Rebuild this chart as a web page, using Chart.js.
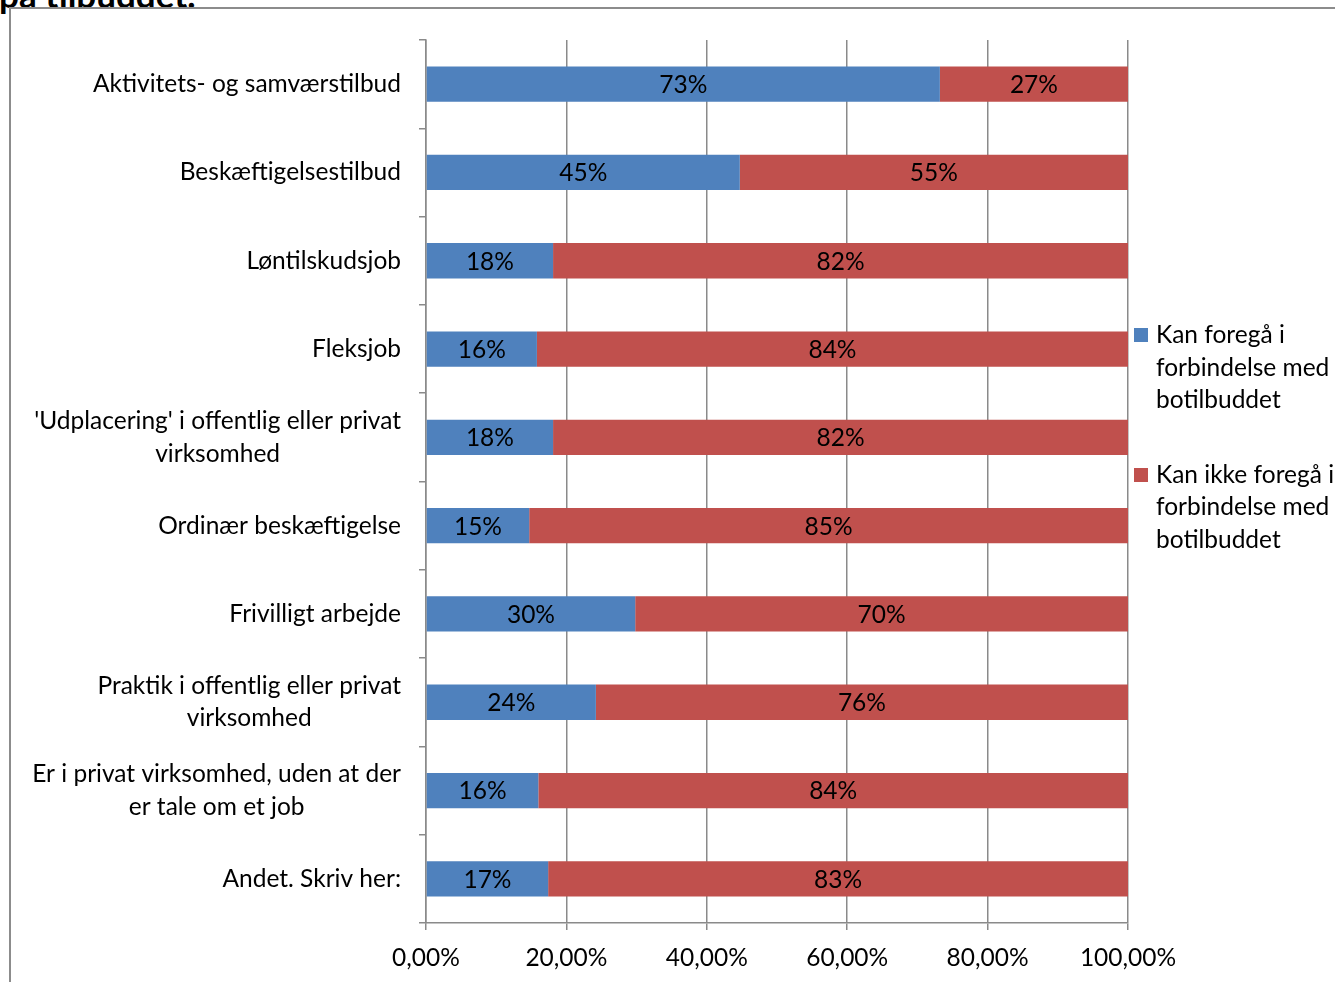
<!DOCTYPE html>
<html><head><meta charset="utf-8">
<script src="https://cdn.jsdelivr.net/npm/chart.js@4.4.1/dist/chart.umd.min.js"></script>
<style>
html,body{margin:0;padding:0;background:#fff;width:1335px;height:982px;overflow:hidden;font-family:Lato,'Open Sans',sans-serif;}
#frame{position:absolute;left:9px;top:7px;width:1400px;height:1000px;border-left:2px solid #8c8c8c;border-top:2px solid #8c8c8c;}
#title{position:absolute;left:-1px;top:-27px;font-weight:bold;font-size:35px;color:#000;white-space:nowrap;}
#wrap{position:absolute;left:0;top:0;width:1335px;height:982px;}
#legend{position:absolute;left:1134px;top:318px;font-size:24.5px;line-height:32.5px;color:#000;}
.li{position:relative;padding-left:22px;margin-bottom:42px;white-space:nowrap;}
.sw{position:absolute;left:0;top:10px;width:14px;height:14px;}
</style>
</head><body>
<div id="title">på tilbuddet.</div>
<div id="frame"></div>
<div id="wrap"><canvas id="c" width="1335" height="982"></canvas></div>
<div id="legend"></div>
<script>
const categories = [
  "Aktivitets- og samværstilbud",
  "Beskæftigelsestilbud",
  "Løntilskudsjob",
  "Fleksjob",
  ["'Udplacering' i offentlig eller privat", "virksomhed"],
  "Ordinær beskæftigelse",
  "Frivilligt arbejde",
  ["Praktik i offentlig eller privat", "virksomhed"],
  ["Er i privat virksomhed, uden at der", "er tale om et job"],
  "Andet. Skriv her:"
];
const seriesNames = [
  ["Kan foregå i", "forbindelse med", "botilbuddet"],
  ["Kan ikke foregå i", "forbindelse med", "botilbuddet"]
];
const kanForegaa = [73.2, 44.7, 18.1, 15.8, 18.1, 14.7, 29.8, 24.2, 16.0, 17.4];
const kanIkkeForegaa = [26.8, 55.3, 81.9, 84.2, 81.9, 85.3, 70.2, 75.8, 84.0, 82.6];
const xTicks = [0, 20, 40, 60, 80, 100];
const colors = ["#4F81BD", "#C0504D"];

const FAMILY = "Lato, 'Open Sans', sans-serif";
const FONT = "24.5px " + FAMILY;
const GRID = "#8a8a8a";

const yLabelPlugin = {
  id: 'ylabels',
  afterDraw(chart) {
    const sc = chart.scales.y, ctx = chart.ctx;
    ctx.save();
    ctx.font = FONT; ctx.fillStyle = '#000';
    ctx.textBaseline = 'middle'; ctx.textAlign = 'center';
    const right = sc.right - 25, LH = 32.5;
    categories.forEach((lab, i) => {
      const lines = Array.isArray(lab) ? lab : [lab];
      const w = Math.max(...lines.map(l => ctx.measureText(l).width));
      const cx = right - w / 2;
      const y = sc.getPixelForTick(i);
      lines.forEach((l, j) => ctx.fillText(l, cx, y + (j - (lines.length - 1) / 2) * LH));
    });
    ctx.restore();
  }
};
const dataLabelPlugin = {
  id: 'dlabels',
  afterDatasetsDraw(chart) {
    const ctx = chart.ctx;
    ctx.save();
    ctx.font = FONT; ctx.fillStyle = '#000';
    ctx.textBaseline = 'middle'; ctx.textAlign = 'center';
    chart.data.datasets.forEach((ds, di) => {
      chart.getDatasetMeta(di).data.forEach((el, i) => {
        ctx.fillText(Math.round(ds.data[i]) + '%', (el.x + el.base) / 2, el.y + 1);
      });
    });
    ctx.restore();
  }
};

new Chart(document.getElementById('c'), {
  type: 'bar',
  data: {
    labels: categories,
    datasets: [
      { label: seriesNames[0].join(' '), data: kanForegaa, backgroundColor: colors[0], barPercentage: 0.4, categoryPercentage: 1 },
      { label: seriesNames[1].join(' '), data: kanIkkeForegaa, backgroundColor: colors[1], barPercentage: 0.4, categoryPercentage: 1 }
    ]
  },
  options: {
    indexAxis: 'y',
    responsive: false,
    animation: false,
    layout: { padding: { left: 0, top: 40, right: 207, bottom: 0 } },
    plugins: { legend: { display: false }, tooltip: { enabled: false } },
    scales: {
      x: {
        stacked: true, min: 0, max: 100,
        afterBuildTicks: s => { s.ticks = xTicks.map(v => ({ value: v })); },
        afterFit: s => { s.height = 59; },
        grid: { color: GRID, lineWidth: 1.5, tickLength: 7, drawOnChartArea: true },
        border: { color: GRID, width: 1.5 },
        ticks: { font: { size: 24.5, family: FAMILY }, color: '#000', padding: 13,
                 callback: v => v.toFixed(2).replace('.', ',') + '%', maxRotation: 0 }
      },
      y: {
        stacked: true,
        afterFit: s => { s.width = 426; },
        grid: { color: GRID, lineWidth: 1.5, tickLength: 7, drawOnChartArea: false, offset: true },
        border: { color: GRID, width: 1.5 },
        ticks: { display: false }
      }
    }
  },
  plugins: [yLabelPlugin, dataLabelPlugin]
});

const leg = document.getElementById('legend');
seriesNames.forEach((lines, i) => {
  const d = document.createElement('div'); d.className = 'li';
  const s = document.createElement('span'); s.className = 'sw'; s.style.background = colors[i];
  d.appendChild(s);
  d.insertAdjacentHTML('beforeend', lines.join('<br>'));
  leg.appendChild(d);
});
</script>
</body></html>
